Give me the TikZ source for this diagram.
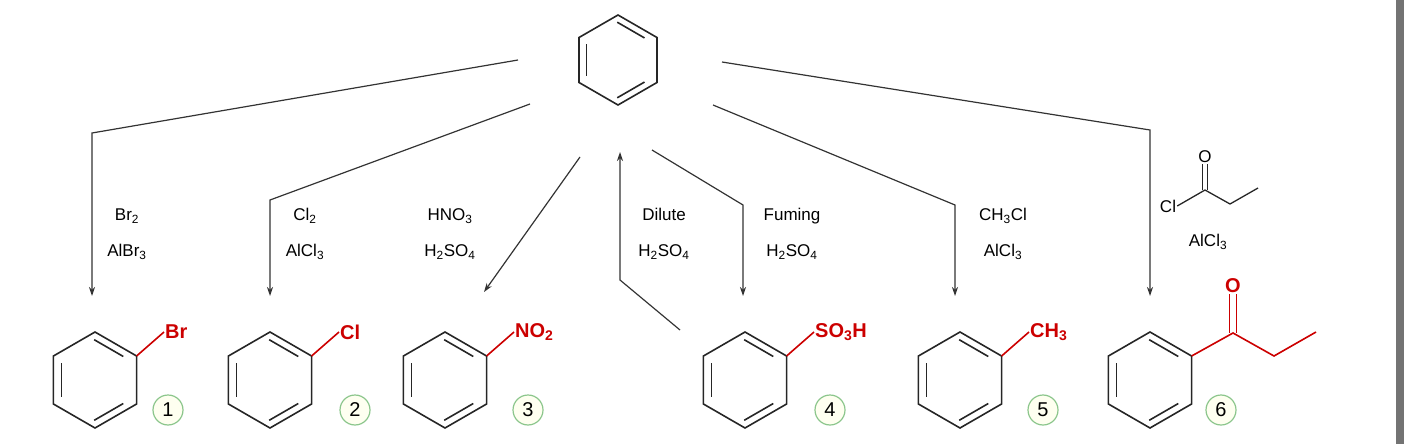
\documentclass[tikz,border=0pt]{standalone}
\usepackage{fontspec}
\setmainfont{Liberation Sans}
\usetikzlibrary{arrows.meta,calc}
\newcommand\myring[3]{% center x, y, radius
 \begin{scope}[shift={(#1,#2)}]
  \draw[bond] (90:#3)--(150:#3)--(210:#3)--(270:#3)--(330:#3)--(30:#3)--cycle;
  \draw[bond] ($(90:#3)!0.15!(30:#3)+(210:0.17*#3)$)--($(30:#3)!0.15!(90:#3)+(210:0.17*#3)$);
  \draw[bond] ($(330:#3)!0.15!(270:#3)+(150:0.17*#3)$)--($(270:#3)!0.15!(330:#3)+(150:0.17*#3)$);
  \draw[bond] ($(150:#3)!0.15!(210:#3)+(0:0.17*#3)$)--($(210:#3)!0.15!(150:#3)+(0:0.17*#3)$);
 \end{scope}}
\newcommand\ts[1]{\textsubscript{#1}}
\begin{document}
\begin{tikzpicture}[x=1pt,y=-1pt,
 bond/.style={line width=1.6pt,black!85},
 rbond/.style={line width=1.6pt,red!80!black},
 arr/.style={line width=1.2pt,black!80,-{Stealth[length=9pt,width=6pt]}},
 lab/.style={font=\fontsize{17}{36}\selectfont,align=center,inner sep=1pt},
 sub/.style={font=\bfseries\fontsize{20}{22}\selectfont,text=red!80!black,inner sep=1pt},
 num/.style={circle,draw=green!50!black!45,fill=green!8!yellow!6,line width=1.2pt,minimum size=30pt,inner sep=0pt,font=\fontsize{20}{22}\selectfont}]
\useasboundingbox (0,0) rectangle (1414,444);
\fill[black!55] (1396,0) rectangle (1404,444);
% rings
\myring{618}{60}{45}
\myring{95}{380}{48}
\myring{270}{380}{48}
\myring{445}{380}{48}
\myring{745}{380}{48}
\myring{960}{380}{48}
\myring{1150}{380}{48}
% substituents
\node[sub,anchor=west] (br) at (164,332) {Br};
\draw[rbond] (136.6,356) -- (br.west);
\node[sub,anchor=west] (cl) at (339,332) {Cl};
\draw[rbond] (311.6,356) -- (cl.west);
\node[sub,anchor=west] (no) at (514,332) {NO\ts{2}};
\draw[rbond] (486.6,356) -- (no.west);
\node[sub,anchor=west] (so) at (814,332) {SO\ts{3}H};
\draw[rbond] (786.6,356) -- (so.west);
\node[sub,anchor=west] (ch) at (1029,332) {CH\ts{3}};
\draw[rbond] (1001.6,356) -- (ch.west);
\coordinate (c6) at (1233,333);
\node[sub] (o6) at (1233,286) {O};
\draw[rbond] (1191.6,356) -- (c6) -- (1274,356) -- (1316,332);
\draw[rbond] ($(c6)+(-3.5,0)$) -- ($(o6.south)+(-3.5,0)$);
\draw[rbond] ($(c6)+(3.5,0)$) -- ($(o6.south)+(3.5,0)$);
% numbers
\node[num] (n1) at (168,410) {1};
\node[num] (n2) at (355,410) {2};
\node[num] (n3) at (528,410) {3};
\node[num] (n4) at (830,410) {4};
\node[num] (n5) at (1043,410) {5};
\node[num] (n6) at (1221,410) {6};
% arrows
\coordinate (s1) at (518,60); \coordinate (k1) at (92,133); \coordinate (e1) at (92,296);
\draw[arr] (s1) -- (k1) -- (e1);
\coordinate (s2) at (530,104); \coordinate (k2) at (270,200); \coordinate (e2) at (270,296);
\draw[arr] (s2) -- (k2) -- (e2);
\coordinate (s3) at (580,157); \coordinate (e3) at (484,292);
\draw[arr] (s3) -- (e3);
\coordinate (s4) at (680,330); \coordinate (k4) at (620,280); \coordinate (e4) at (620,152);
\draw[arr] (s4) -- (k4) -- (e4);
\coordinate (s5) at (652,150); \coordinate (k5) at (743,205); \coordinate (e5) at (743,296);
\draw[arr] (s5) -- (k5) -- (e5);
\coordinate (s6) at (713,105); \coordinate (k6) at (955,205); \coordinate (e6) at (955,296);
\draw[arr] (s6) -- (k6) -- (e6);
\coordinate (s7) at (722,62); \coordinate (k7) at (1150,130); \coordinate (e7) at (1150,296);
\draw[arr] (s7) -- (k7) -- (e7);
% labels
\node[lab] (l1) at (127,234) {Br\ts{2}\\AlBr\ts{3}};
\node[lab] (l2) at (305,234) {Cl\ts{2}\\AlCl\ts{3}};
\node[lab] (l3) at (450,234) {HNO\ts{3}\\H\ts{2}SO\ts{4}};
\node[lab] (l4) at (664,234) {Dilute\\H\ts{2}SO\ts{4}};
\node[lab] (l5) at (792,234) {Fuming\\H\ts{2}SO\ts{4}};
\node[lab] (l6) at (1003,234) {CH\ts{3}Cl\\AlCl\ts{3}};
\node[lab] (l7) at (1208,242) {AlCl\ts{3}};
% acyl chloride
\node[lab] (acl) at (1168,206) {Cl};
\coordinate (ac) at (1205,190);
\node[lab] (ao) at (1205,157) {O};
\draw[line width=1.3pt,black!85] (acl.east) -- (ac) -- (1230,204) -- (1258,188);
\draw[line width=1.3pt,black!85] ($(ac)+(-2.5,0)$) -- ($(ao.south)+(-2.5,0)$);
\draw[line width=1.3pt,black!85] ($(ac)+(2.5,0)$) -- ($(ao.south)+(2.5,0)$);
\end{tikzpicture}
\end{document}
